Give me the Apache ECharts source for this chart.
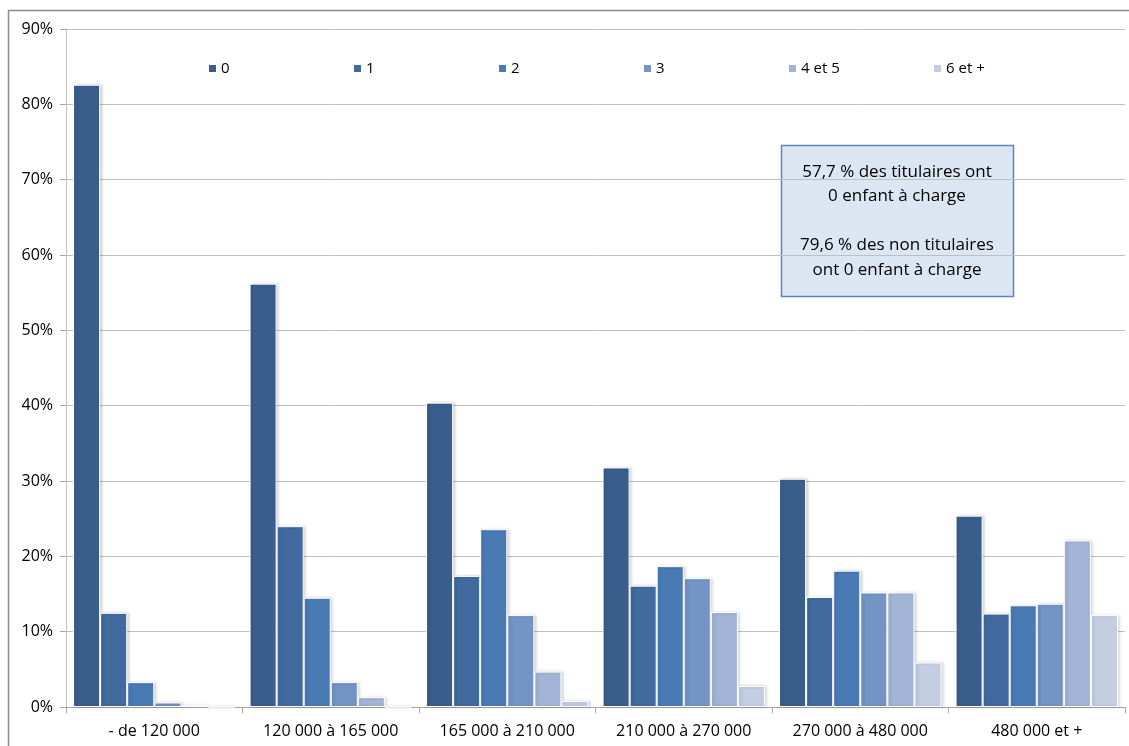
<!DOCTYPE html>
<html><head><meta charset="utf-8">
<script src="https://cdn.jsdelivr.net/npm/echarts@6/dist/echarts.min.js"></script>
<style>html,body{margin:0;padding:0;background:#fff}#c{width:1129px;height:746px}</style>
</head><body><div id="c"></div>
<script>
const categories = ['- de 120 000','120 000 à 165 000','165 000 à 210 000','210 000 à 270 000','270 000 à 480 000','480 000 et +'];
const seriesNames = ['0','1','2','3','4 et 5','6 et +'];
const s0 = [82.6, 56.2, 40.4, 31.8, 30.3, 25.4];
const s1 = [12.5, 24.0, 17.4, 16.1, 14.6, 12.4];
const s2 = [3.3, 14.5, 23.6, 18.7, 18.1, 13.5];
const s3 = [0.6, 3.3, 12.2, 17.1, 15.2, 13.7];
const s4 = [0.2, 1.3, 4.7, 12.6, 15.2, 22.1];
const s5 = [0.0, 0.0, 0.8, 2.8, 5.9, 12.2];
const noteLines = ['57,7 % des titulaires ont','0 enfant à charge','','79,6 % des non titulaires','ont 0 enfant à charge'];
const colors = ['#3a5e8b','#416a9f','#4a7ab4','#7394c4','#a2b4d5','#c3cee3'];
const values = [s0,s1,s2,s3,s4,s5];

const chart = echarts.init(document.getElementById('c'), null, {renderer:'canvas'});
const font = '"Open Sans", "Noto Sans", sans-serif';
chart.setOption({
  animation:false,
  color: colors,
  grid:{left:66, right:4, top:29, bottom:39, containLabel:false},
  legend: seriesNames.map((n,i)=>({
    left: 202 + i*145, top:56, itemWidth:9, itemHeight:9, itemGap:0,
    icon:'rect',
    textStyle:{fontFamily:font, fontSize:15, color:'#000', padding:[0,0,0,-1]},
    data:[n]
  })),
  xAxis:{
    type:'category', data:categories,
    axisLine:{lineStyle:{color:'#a6a6a6'}},
    axisTick:{show:true, length:6, lineStyle:{color:'#a6a6a6'}},
    axisLabel:{fontFamily:font, fontSize:16, color:'#000', margin:16}
  },
  yAxis:{
    type:'value', min:0, max:90, interval:10,
    axisLine:{show:true, lineStyle:{color:'#bfbfbf'}},
    axisTick:{show:true, length:6, inside:false, lineStyle:{color:'#a6a6a6'}},
    splitLine:{lineStyle:{color:'#bfbfbf'}},
    axisLabel:{fontFamily:font, fontSize:16, color:'#000', margin:13, formatter: v => v + '%'}
  },
  series: seriesNames.map((n,i)=>({
    name:n, type:'bar', data:values[i], barGap:'0%', barCategoryGap:'8%',
    itemStyle:{color:colors[i], borderColor:'#fff', borderWidth:1,
      shadowColor:'rgba(0,0,0,0.18)', shadowBlur:3, shadowOffsetX:2, shadowOffsetY:0}
  })),
  graphic:[
    {type:'rect', shape:{x:8.5,y:10.5,width:1130,height:800}, style:{fill:'none', stroke:'#8c8c8c', lineWidth:1.5}, silent:true},
    {type:'rect', shape:{x:781.5,y:145.5,width:232,height:151}, style:{fill:'#dce6f2', stroke:'#5b85bf', lineWidth:1.5}},
    {type:'text', x:897, y:221, style:{text:noteLines.join('\n'), font:'17px ' + font, fill:'#000', align:'center', verticalAlign:'middle', lineHeight:24.5}}
  ]
});
</script></body></html>
